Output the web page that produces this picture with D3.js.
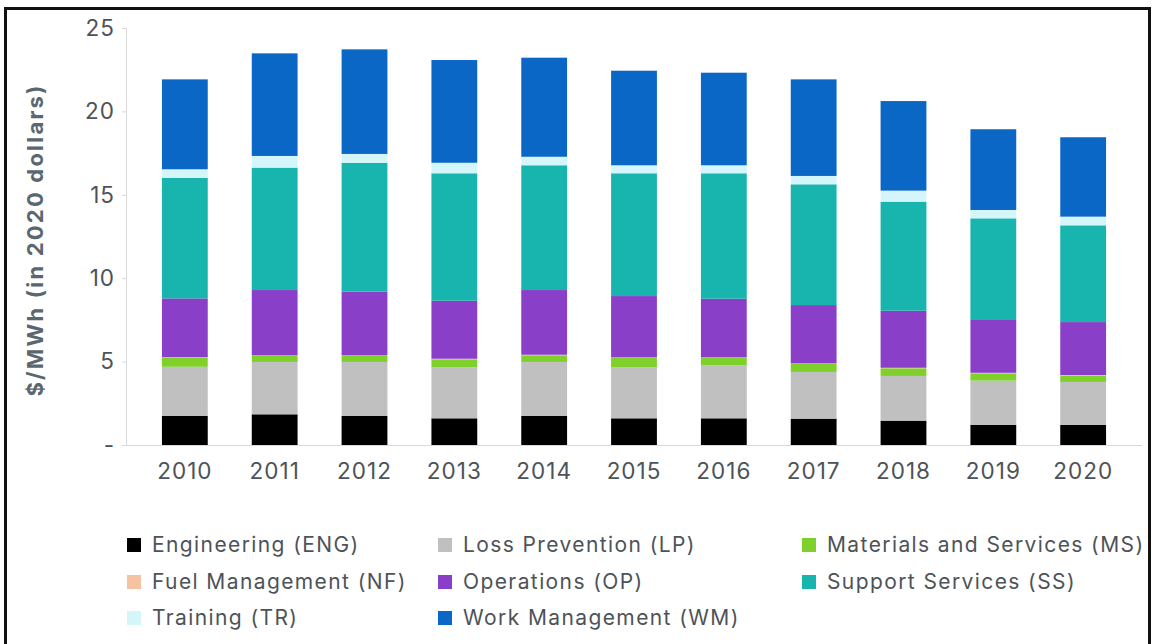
<!DOCTYPE html>
<html>
<head>
<meta charset="utf-8">
<script src="https://cdn.jsdelivr.net/npm/d3@7"></script>
<style>
  html, body { margin: 0; padding: 0; background: #fff; }
  svg { display: block; font-family: Inter, "Open Sans", sans-serif; }
</style>
</head>
<body>
<svg id="chart" width="1154" height="644"></svg>
<script>
const years = ['2010', '2011', '2012', '2013', '2014', '2015', '2016', '2017', '2018', '2019', '2020']

const seriesKeys = ['ENG', 'LP', 'MS', 'NF', 'OP', 'SS', 'TR', 'WM']
const seriesNames = [
  'Engineering (ENG)', 'Loss Prevention (LP)', 'Materials and Services (MS)',
  'Fuel Management (NF)', 'Operations (OP)', 'Support Services (SS)',
  'Training (TR)', 'Work Management (WM)'
]
const seriesColors = ['#000000', '#c0c0c0', '#7fd02a', '#f4c4a2', '#8a3fc8', '#18b4ae', '#d4f6fb', '#0b67c6']

// $/MWh values
const ENG = [1.74, 1.84, 1.74, 1.60, 1.74, 1.60, 1.60, 1.58, 1.46, 1.20, 1.20]
const LP = [2.95, 3.14, 3.24, 3.06, 3.24, 3.06, 3.18, 2.80, 2.68, 2.66, 2.58]
const MS = [0.54, 0.36, 0.36, 0.48, 0.40, 0.56, 0.44, 0.48, 0.46, 0.44, 0.38]
const NF = [0.03, 0.03, 0.03, 0.03, 0.03, 0.03, 0.03, 0.03, 0.03, 0.03, 0.03]
const OP = [3.53, 3.92, 3.82, 3.48, 3.88, 3.68, 3.52, 3.50, 3.42, 3.21, 3.18]
const SS = [7.23, 7.34, 7.73, 7.64, 7.48, 7.36, 7.52, 7.24, 6.54, 6.05, 5.80]
const TR = [0.51, 0.70, 0.53, 0.63, 0.51, 0.48, 0.48, 0.50, 0.66, 0.50, 0.52]
const WM = [5.39, 6.15, 6.27, 6.16, 5.94, 5.67, 5.55, 5.79, 5.37, 4.84, 4.76]

const yTicks = [0, 5, 10, 15, 20, 25]

const values = { ENG, LP, MS, NF, OP, SS, TR, WM }
const rows = years.map((year, i) => {
  const r = { year }
  seriesKeys.forEach(k => { r[k] = values[k][i] })
  return r
})

const TEXT = '#4d5358'
const svg = d3.select('#chart')

// frame around the picture
svg.append('rect')
  .attr('x', 5.5).attr('y', 8.5).attr('width', 1144).attr('height', 660)
  .attr('fill', 'none').attr('stroke', '#111').attr('stroke-width', 3)

const x = d3.scaleBand().domain(years).range([126, 1142]).paddingInner(0.49).paddingOuter(0.4)
const y = d3.scaleLinear().domain([0, 25]).range([445, 28])
const color = d3.scaleOrdinal().domain(seriesKeys).range(seriesColors)

const stack = d3.stack().keys(seriesKeys)(rows)

svg.append('g').selectAll('g')
  .data(stack)
  .join('g')
  .attr('fill', d => color(d.key))
  .selectAll('rect')
  .data(d => d)
  .join('rect')
  .attr('x', d => x(d.data.year))
  .attr('width', x.bandwidth())
  .attr('y', d => y(d[1]))
  .attr('height', d => y(d[0]) - y(d[1]))

// y axis
const yAxis = svg.append('g')
  .attr('transform', 'translate(126,0)')
  .call(d3.axisLeft(y).tickValues(yTicks).tickSize(4).tickPadding(7)
    .tickFormat(d => d === 0 ? '-' : d))
yAxis.select('.domain').attr('stroke', '#d9d9d9')
yAxis.selectAll('.tick line').attr('stroke', '#d9d9d9')
yAxis.selectAll('.tick text')
  .attr('font-size', 22.5).attr('fill', TEXT).attr('letter-spacing', 1)
  .attr('font-family', 'Inter, "Open Sans", sans-serif')

// x axis
const xAxis = svg.append('g')
  .attr('transform', 'translate(0,445)')
  .call(d3.axisBottom(x).tickSize(0).tickPadding(18))
xAxis.select('.domain').attr('stroke', '#d9d9d9').attr('d', 'M126,0.5H1142')
xAxis.selectAll('.tick text')
  .attr('font-size', 22.5).attr('fill', TEXT).attr('letter-spacing', 1)
  .attr('font-family', 'Inter, "Open Sans", sans-serif')

// y axis title
svg.append('text')
  .attr('transform', 'translate(43,240) rotate(-90)')
  .attr('text-anchor', 'middle')
  .attr('font-size', 22).attr('font-weight', 700).attr('fill', '#5b6770')
  .attr('letter-spacing', 2.2)
  .text('$/MWh (in 2020 dollars)')

// legend, row by row in three columns
const colX = [127, 438, 802]
const rowY = [545, 582, 618]
const legend = svg.append('g').selectAll('g')
  .data(seriesKeys)
  .join('g')
  .attr('transform', (d, i) => `translate(${colX[i % 3]},${rowY[Math.floor(i / 3)]})`)

legend.append('rect')
  .attr('x', 0).attr('y', -7).attr('width', 14).attr('height', 14)
  .attr('fill', d => color(d))

legend.append('text')
  .attr('x', 25).attr('y', 0).attr('dy', '0.35em')
  .attr('font-size', 21).attr('fill', TEXT).attr('letter-spacing', 1.4)
  .text((d, i) => seriesNames[i])
</script>
</body>
</html>
